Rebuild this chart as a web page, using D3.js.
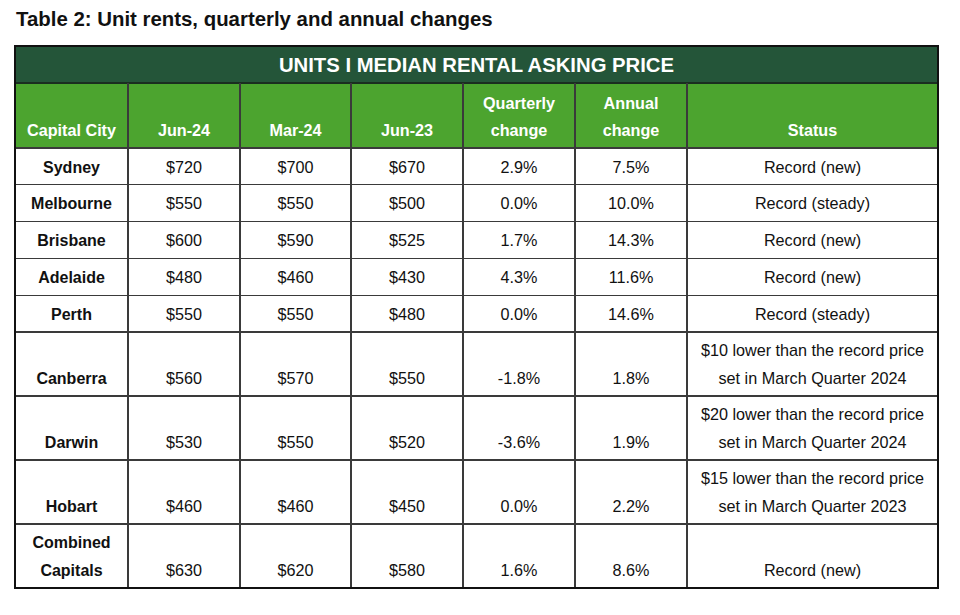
<!DOCTYPE html>
<html><head><meta charset="utf-8">
<script src="https://cdn.jsdelivr.net/npm/d3@7"></script>
<style>body{margin:0;background:#fff;} svg{display:block;font-family:"Liberation Sans",Arial,Helvetica,sans-serif;}</style>
</head><body>
<svg id="c" width="960" height="615"></svg>
<script>
const title = "Table 2: Unit rents, quarterly and annual changes";
const bandTitle = "UNITS I MEDIAN RENTAL ASKING PRICE";
const headers = [["Capital City"],["Jun-24"],["Mar-24"],["Jun-23"],["Quarterly","change"],["Annual","change"],["Status"]];
const cities = [["Sydney"],["Melbourne"],["Brisbane"],["Adelaide"],["Perth"],["Canberra"],["Darwin"],["Hobart"],["Combined","Capitals"]];
const jun24 = [720,550,600,480,550,560,530,460,630];
const mar24 = [700,550,590,460,550,570,550,460,620];
const jun23 = [670,500,525,430,480,550,520,450,580];
const quarterly = [2.9,0.0,1.7,4.3,0.0,-1.8,-3.6,0.0,1.6];
const annual = [7.5,10.0,14.3,11.6,14.6,1.8,1.9,2.2,8.6];
const status = [["Record (new)"],["Record (steady)"],["Record (new)"],["Record (new)"],["Record (steady)"],
  ["$10 lower than the record price","set in March Quarter 2024"],
  ["$20 lower than the record price","set in March Quarter 2024"],
  ["$15 lower than the record price","set in March Quarter 2023"],
  ["Record (new)"]];

const svg = d3.select("#c");
// layout
const colEdges = [15,128,240,351,463,575,687,938];
const x0 = colEdges[0], x1 = colEdges[colEdges.length-1];
const yTop = 46, yBand = 83, yHead = 148;
const singleH = 36.8, doubleH = 64;
const rowH = cities.map((c,i)=> (c.length>1 || status[i].length>1) ? doubleH : singleH);
const rowY = [yHead]; rowH.forEach((h,i)=>rowY.push(rowY[i]+h));
const dark = "#245539", green = "#4ca42f", lineC = "#3a3a3a";
const loc = d3.formatLocale({decimal:".",thousands:",",grouping:[3],currency:["$",""],minus:"-"});
const fmt$ = d => "$" + loc.format("d")(d);
const fmtP = d => loc.format(".1f")(d) + "%";

svg.append("text").attr("x",16).attr("y",25.5).attr("font-size",20.4).attr("font-weight","bold").attr("fill","#111").text(title);

svg.append("rect").attr("x",x0).attr("y",yTop).attr("width",x1-x0).attr("height",yBand-yTop).attr("fill",dark);
svg.append("text").attr("x",(x0+x1)/2).attr("y",71.5).attr("text-anchor","middle").attr("font-size",20.3).attr("font-weight","bold").attr("fill","#fff").text(bandTitle);
svg.append("rect").attr("x",x0).attr("y",yBand).attr("width",x1-x0).attr("height",yHead-yBand).attr("fill",green);

const lineH = 27.5;
function cellText(lines, col, yBottom, opts){
  const cx = (colEdges[col]+colEdges[col+1])/2;
  const n = lines.length;
  lines.forEach((t,k)=>{
    svg.append("text").attr("x",cx).attr("y",yBottom - (n-1-k)*lineH)
      .attr("text-anchor","middle").attr("font-size",opts.size||16.2)
      .attr("font-weight",opts.bold?"bold":"normal").attr("fill",opts.fill||"#111").text(t);
  });
}
headers.forEach((h,j)=>cellText(h,j,136,{bold:true,fill:"#fff",size:16.2}));

cities.forEach((c,i)=>{
  const base = rowY[i+1] - 12.2;
  cellText(c,0,base,{bold:true,size:16});
  cellText([fmt$(jun24[i])],1,base,{});
  cellText([fmt$(mar24[i])],2,base,{});
  cellText([fmt$(jun23[i])],3,base,{});
  cellText([fmtP(quarterly[i])],4,base,{});
  cellText([fmtP(annual[i])],5,base,{});
  cellText(status[i],6,base,{});
});

// grid lines
const g = svg.append("g").attr("stroke",lineC).attr("stroke-width",1.2).attr("shape-rendering","crispEdges");
rowY.slice(0,-1).forEach(y=>g.append("line").attr("x1",x0).attr("x2",x1).attr("y1",y).attr("y2",y));
g.append("line").attr("x1",x0).attr("x2",x1).attr("y1",yBand).attr("y2",yBand).attr("stroke","#1a2e20");
colEdges.slice(1,-1).forEach(x=>g.append("line").attr("x1",x).attr("x2",x).attr("y1",yBand).attr("y2",rowY[rowY.length-1]));
svg.append("rect").attr("x",x0).attr("y",yTop).attr("width",x1-x0).attr("height",rowY[rowY.length-1]-yTop)
  .attr("fill","none").attr("stroke","#111").attr("stroke-width",1.4).attr("shape-rendering","crispEdges");
</script>
</body></html>
